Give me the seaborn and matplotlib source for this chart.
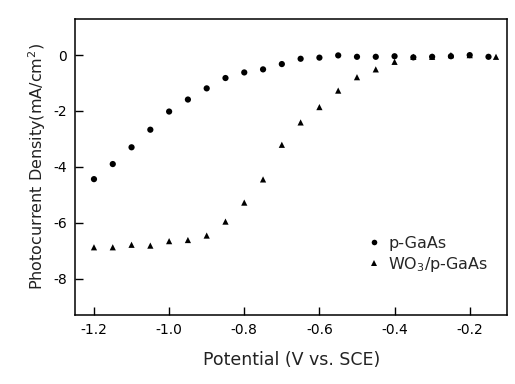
import numpy as np
import pandas as pd
import matplotlib
matplotlib.use("Agg")
import matplotlib.pyplot as plt
import seaborn as sns

# p-GaAs
pot_bare = [-1.20, -1.15, -1.10, -1.05, -1.00, -0.95, -0.90, -0.85, -0.80, -0.75, -0.70,
            -0.65, -0.60, -0.55, -0.50, -0.45, -0.40, -0.35, -0.30, -0.25, -0.20, -0.15]
cur_bare = [-4.44, -3.90, -3.30, -2.67, -2.02, -1.59, -1.19, -0.82, -0.62, -0.51, -0.32,
            -0.13, -0.09, -0.01, -0.06, -0.06, -0.04, -0.08, -0.06, -0.04, 0.00, -0.06]

# WO3/p-GaAs
pot_wo3 = [-1.20, -1.15, -1.10, -1.05, -1.00, -0.95, -0.90, -0.85, -0.80, -0.75, -0.70,
           -0.65, -0.60, -0.55, -0.50, -0.45, -0.40, -0.35, -0.30, -0.25, -0.20, -0.13]
cur_wo3 = [-6.88, -6.88, -6.79, -6.82, -6.66, -6.62, -6.46, -5.96, -5.28, -4.45, -3.21,
           -2.41, -1.86, -1.27, -0.79, -0.51, -0.24, -0.06, -0.06, 0.00, 0.00, -0.06]

labels = ['p-GaAs', 'WO$_3$/p-GaAs']
xticks = [-1.2, -1.0, -0.8, -0.6, -0.4, -0.2]
yticks = [0, -2, -4, -6, -8]

df = pd.DataFrame({
    'Potential': pot_bare + pot_wo3,
    'Current': cur_bare + cur_wo3,
    'Sample': [labels[0]] * len(pot_bare) + [labels[1]] * len(pot_wo3),
})

sns.set_theme(style="ticks")
plt.rcParams['font.family'] = ['DejaVu Sans']

fig = plt.figure(figsize=(5.15, 3.84), dpi=100)
ax = fig.add_axes([0.146, 0.180, 0.839, 0.771])

sns.scatterplot(data=df, x='Potential', y='Current', hue='Sample', style='Sample',
                markers={labels[0]: 'o', labels[1]: '^'},
                palette={labels[0]: 'black', labels[1]: 'black'},
                s=20, edgecolor='black', linewidth=0, ax=ax)

ax.set_xlim(-1.25, -0.10)
ax.set_ylim(-9.3, 1.3)
ax.set_xticks(xticks)
ax.set_xticklabels(['-1.2', '-1.0', '-0.8', '-0.6', '-0.4', '-0.2'])
ax.set_yticks(yticks)
ax.set_yticklabels(['0', '-2', '-4', '-6', '-8'])
ax.tick_params(direction='in', length=6, width=1, labelsize=10, colors='black', pad=6)

for sp in ax.spines.values():
    sp.set_visible(True)
    sp.set_color('black')
    sp.set_linewidth(1.1)

ax.set_xlabel('Potential (V vs. SCE)', fontsize=12.5, labelpad=10, color='#222222')
ax.set_ylabel('Photocurrent Density(mA/cm$^2$)', fontsize=11.5, labelpad=4, color='#222222')

leg = ax.legend(loc='lower right', bbox_to_anchor=(0.99, 0.09), frameon=False,
                fontsize=11.5, handletextpad=0.3, handlelength=1.2,
                labelspacing=0.25, markerscale=0.9)

fig.savefig('out.png', dpi=100)
